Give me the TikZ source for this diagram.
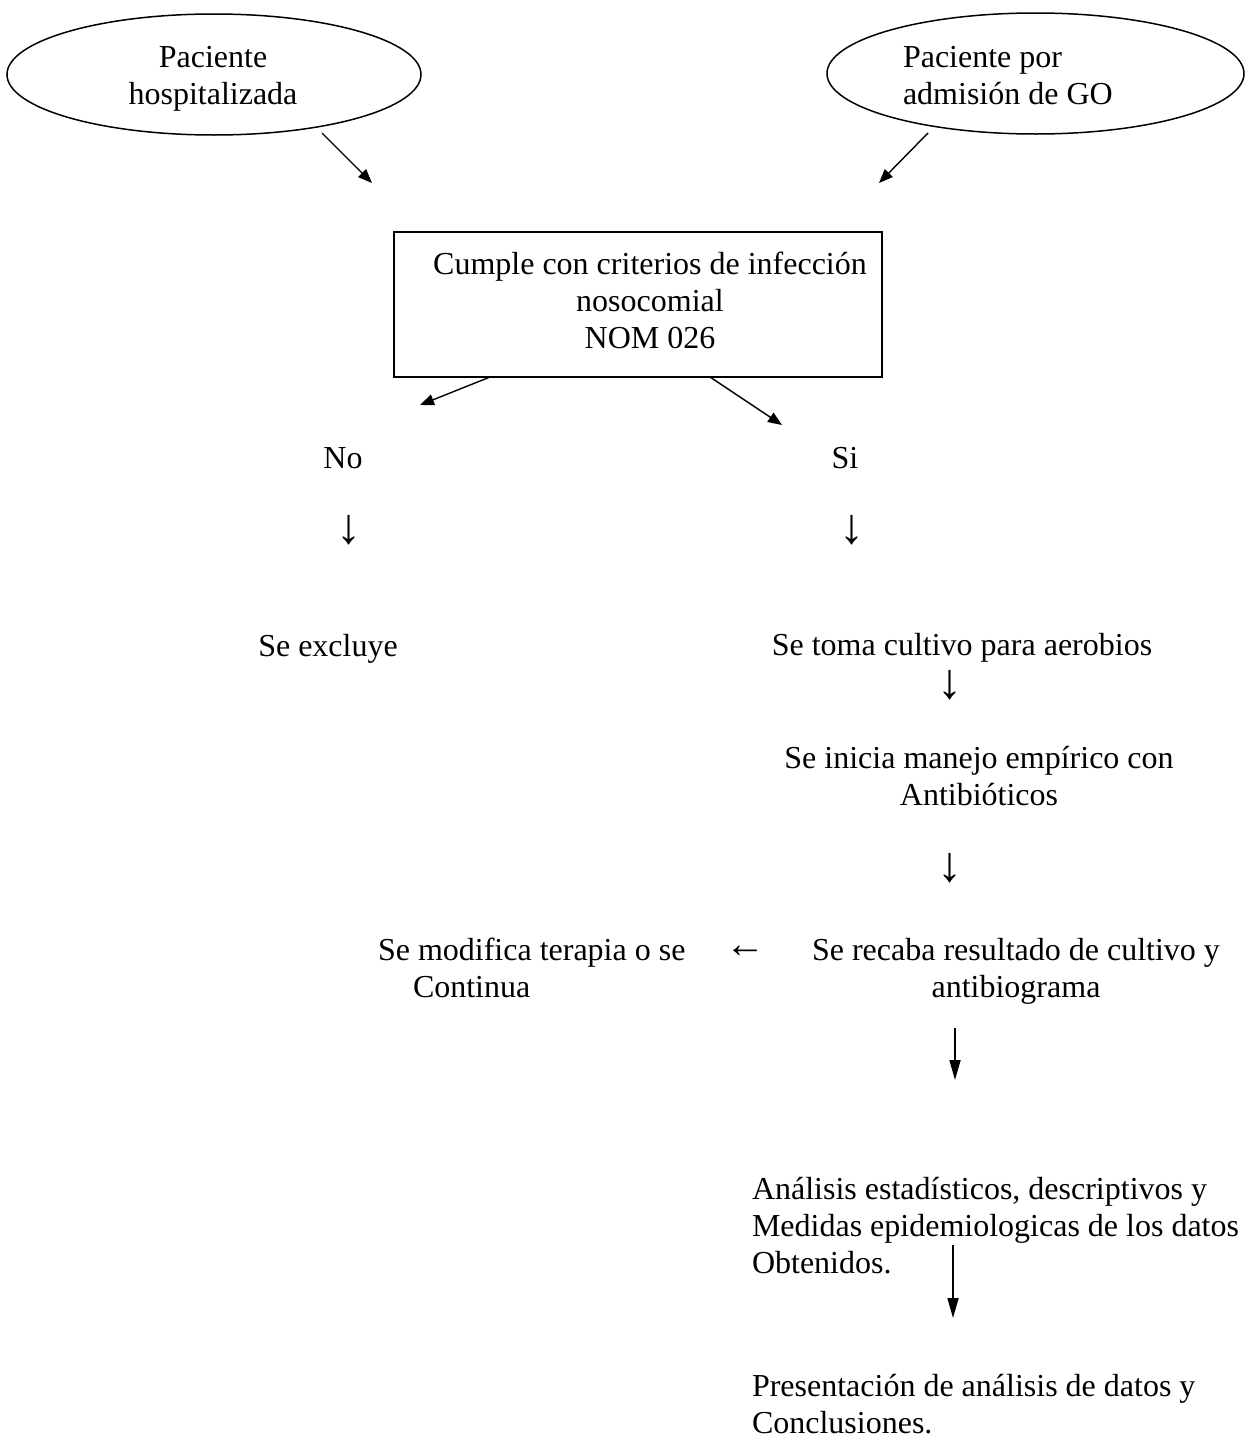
\documentclass[tikz,border=0pt]{standalone}
\usepackage{fontspec}
\setmainfont{Liberation Serif}
\usetikzlibrary{shapes.geometric,arrows.meta}
\begin{document}
\begin{tikzpicture}[x=1pt,y=-1pt,
  txt/.style={inner sep=0pt, outer sep=0pt, font=\fontsize{32}{37}\selectfont},
  glyph/.style={inner sep=0pt, outer sep=0pt, font=\fontsize{50}{50}\selectfont},
  oval/.style={ellipse, draw, line width=1.5pt, inner sep=0pt},
  frame/.style={draw, line width=1.5pt, inner sep=0pt},
  thin arrow/.style={line width=1.4pt, -{Triangle[length=14pt,width=11pt]}},
  thick arrow/.style={line width=1.7pt, -{Triangle[length=20pt,width=11pt]}}]
\useasboundingbox (0,0) rectangle (1246,1443);

% ovals
\node[oval, minimum width=414pt, minimum height=121pt] (e1) at (214,74.5) {};
\node[txt, align=center] (t1) at (213,79) {Paciente\\hospitalizada};
\node[oval, minimum width=417pt, minimum height=121pt] (e2) at (1035.5,73.5) {};
\node[txt, align=left, anchor=west] (t2) at (903,75.75) {Paciente por\\admisión de GO};

% box
\node[frame, minimum width=488pt, minimum height=145pt] (box) at (638,304.5) {};
\node[txt, align=center] (boxtxt) at (650,300.25) {Cumple con criterios de infección\\nosocomial\\NOM 026};

% arrows into box
\coordinate (s1) at (322,133);
\coordinate (p1) at (372,183);
\coordinate (s2) at (928,133);
\coordinate (p2) at (879,183);
\draw[thin arrow] (s1) -- (p1);
\draw[thin arrow] (s2) -- (p2);

% arrows out of box
\coordinate (bno) at (490,377);
\coordinate (bsi) at (710,377);
\coordinate (pno) at (420,405);
\coordinate (psi) at (782,425);
\draw[thin arrow] (bno) -- (pno);
\draw[thin arrow] (bsi) -- (psi);

% labels
\node[txt, anchor=base] (no) at (343,468) {No};
\node[txt, anchor=base] (si) at (845,468) {Si};
\node[glyph] (dn1) at (349,530) {↓};
\node[glyph] (ds1) at (852,530) {↓};
\node[txt, anchor=base] (excl) at (328,656) {Se excluye};
\node[txt, anchor=base] (cult) at (962,655) {Se toma cultivo para aerobios};
\node[glyph] (ds2) at (950,685) {↓};
\node[txt, align=center] (inicia) at (979,775.75) {Se inicia manejo empírico con\\Antibióticos};
\node[glyph] (ds3) at (950,868) {↓};
\node[txt, align=left, anchor=west] (modif) at (378,968.25) {Se modifica terapia o se\\\hspace*{35pt}Continua};
\node[inner sep=0pt, outer sep=0pt, font=\fontsize{40}{40}\selectfont] (lt) at (745,952) {←};
\node[txt, align=center] (recaba) at (1016,971.5) {Se recaba resultado de cultivo y\\antibiograma};

\coordinate (r1) at (955,1028);
\coordinate (r2) at (955,1080);
\draw[thick arrow] (r1) -- (r2);

\node[txt, align=left, anchor=west] (anal) at (752,1225.95) {Análisis estadísticos, descriptivos y\\Medidas epidemiologicas de los datos\\Obtenidos.};

\coordinate (q1) at (953,1245);
\coordinate (q2) at (953,1318);
\draw[thick arrow] (q1) -- (q2);

\node[txt, align=left, anchor=west] (pres) at (752,1403.75) {Presentación de análisis de datos y\\Conclusiones.};
\end{tikzpicture}
\end{document}
